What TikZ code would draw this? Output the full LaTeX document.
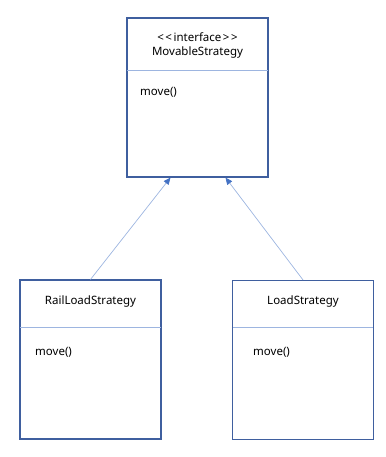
\documentclass[tikz,border=0pt]{standalone}
\usepackage{fontspec}
\setmainfont{Noto Sans}
\usepackage{tikz}
\usetikzlibrary{arrows.meta}
\usetikzlibrary{positioning}

\definecolor{boxblue}{HTML}{3F5F9F}
\definecolor{lineblue}{HTML}{9DB5E0}
\definecolor{tipblue}{HTML}{4472C4}

\tikzset{
	classbox/.style={draw=boxblue, line width=1.1pt, fill=white, minimum width=141pt, minimum height=159pt, inner sep=0pt},
	divider/.style={draw=lineblue, line width=1pt},
	realize/.style={draw=lineblue, line width=0.7pt, -{Triangle[length=7pt,width=6pt,fill=tipblue,color=tipblue]}},
	txt/.style={font=\fontsize{11.5}{13}\selectfont, inner sep=0pt}
}

\begin{document}
\begin{tikzpicture}[x=1pt, y=-1pt]
	\useasboundingbox (0,0) rectangle (385,457);
	% interface
	\node[classbox] (movable) at (197.5,97.5) {};
	\node[txt] (movstereo) at (197.5,37) {<\kern1.5pt<\kern1.5pt interface\kern1.5pt>\kern1.5pt>};
	\node[txt] (movname) at (197.5,53) {MovableStrategy};
	\draw[divider] (127,70.5) -- (268,70.5);
	\node[txt, anchor=west] (movop) at (140,92) {move()};
	% implementations
	\node[classbox] (rail) at (90.5,359.5) {};
	\node[txt] (railname) at (90.5,302) {RailLoadStrategy};
	\draw[divider] (20,327) -- (161,327);
	\node[txt, anchor=west] (railop) at (35,352) {move()};
	\node[classbox] (load) at (303,360) {};
	\node[txt] (loadname) at (303,302) {LoadStrategy};
	\draw[divider] (233,327) -- (373,327);
	\node[txt, anchor=west] (loadop) at (253,352) {move()};
	% arrows
	\draw[realize] (rail.north) -- ([xshift=-27pt]movable.south);
	\draw[realize] (load.north) -- ([xshift=28pt]movable.south);
\end{tikzpicture}
\end{document}
